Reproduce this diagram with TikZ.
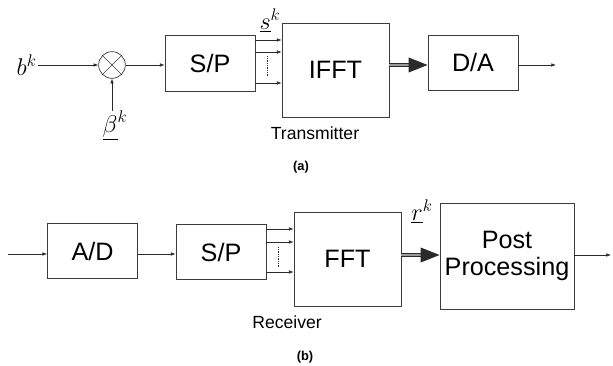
\documentclass[tikz,border=0pt]{standalone}
\usepackage{fontspec}
\setmainfont{Liberation Sans}
\usepackage{tikz}
\usetikzlibrary{arrows.meta,positioning,calc}
\definecolor{cLine}{HTML}{2A2A2A}
\definecolor{cBox}{HTML}{3C3C3C}
\definecolor{cMid}{HTML}{9A9A9A}
\tikzset{
  blk/.style    = {draw=cBox, line width=0.6pt, inner sep=2pt, align=center,
                   font=\fontsize{21.5}{23}\selectfont},
  sp/.style     = {blk, minimum width=2.7cm, minimum height=1.66cm},
  fftbox/.style = {blk, minimum width=3.21cm, minimum height=2.82cm},
  mult/.style   = {circle, draw=cBox, line width=0.6pt, minimum size=0.8cm, inner sep=0pt},
  sym/.style    = {inner sep=1pt, font=\fontsize{21}{23}\selectfont},
  sidetxt/.style= {inner sep=1pt, font=\fontsize{15}{17}\selectfont},
  tag/.style    = {inner sep=1pt, font=\fontsize{11}{13}\selectfont\bfseries},
  sig/.style    = {cLine, line width=0.5pt, -{Latex[length=4pt,width=3pt]}},
  fat/.style    = {cLine, line width=1.2pt, double=cMid, double distance=0.9pt,
                   -{Triangle[length=0.57cm,width=0.44cm]}},
  dots/.style   = {cLine, line width=0.7pt, dash pattern=on 0.6pt off 0.9pt},
}
\begin{document}
\begin{tikzpicture}
  \useasboundingbox (0,0) rectangle (18.39,-10.98);
  % (a) transmitter
  \node[sym] (bk) at (0.8,-1.95) {$b^k$};
  \node[mult] (mx) at (3.36,-1.95) {};
  \draw[cBox, line width=0.5pt] (mx.north west) -- (mx.south east)
                                 (mx.north east) -- (mx.south west);
  \node[sym] (beta) at (3.45,-3.75) {$\underline{\beta}^k$};
  \node[sp] (sp1) at (6.3,-1.905) {S/P};
  \node[fftbox] (ifft) at (10.065,-2.1) {IFFT};
  \node[sp] (da) at (14.19,-1.89) {D/A};
  \coordinate (out1) at (16.68,-1.95);
  \node[sym] (sk) at (8.1,-0.62) {$\underline{s}^k$};
  \draw[sig] (bk.east |- mx) -- (mx.west);
  \draw[sig] (mx.south |- beta.north) ++(0,-0.05) -- (mx.south);
  \draw[sig] (mx.east) -- (sp1.west |- mx);
  \foreach \y in {-1.2,-1.56,-2.49}
    \draw[sig] (sp1.east |- 0,\y) -- (ifft.west |- 0,\y);
  \draw[dots] (8.01,-1.68) -- (8.01,-2.31);
  \draw[fat] (ifft.east |- mx) -- (da.west |- mx);
  \draw[sig] (da.east |- mx) -- (out1);
  \node[sidetxt] (tx) at (9.45,-3.99) {Transmitter};
  \node[tag] (ta) at (9.03,-5.01) {(a)};
  % (b) receiver
  \coordinate (in2) at (0.24,-7.62);
  \node[sp] (ad) at (2.775,-7.53) {A/D};
  \node[sp] (sp2) at (6.63,-7.56) {S/P};
  \node[fftbox] (fft) at (10.425,-7.77) {FFT};
  \node[blk, minimum width=4.02cm, minimum height=3.18cm] (post) at (15.21,-7.68) {Post\\Processing};
  \coordinate (out2) at (18.33,-7.65);
  \node[sym] (rk) at (12.66,-6.33) {$\underline{r}^k$};
  \draw[sig] (in2) -- (ad.west |- in2);
  \draw[sig] (ad.east |- in2) -- (sp2.west |- in2);
  \foreach \y in {-6.87,-7.26,-8.16}
    \draw[sig] (sp2.east |- 0,\y) -- (fft.west |- 0,\y);
  \draw[dots] (8.34,-7.41) -- (8.34,-8.01);
  \draw[fat] (fft.east |- out2) -- (post.west |- out2);
  \draw[sig] (post.east |- out2) -- (out2);
  \node[sidetxt] (rx) at (8.61,-9.66) {Receiver};
  \node[tag] (tb) at (9.15,-10.71) {(b)};
\end{tikzpicture}
\end{document}
